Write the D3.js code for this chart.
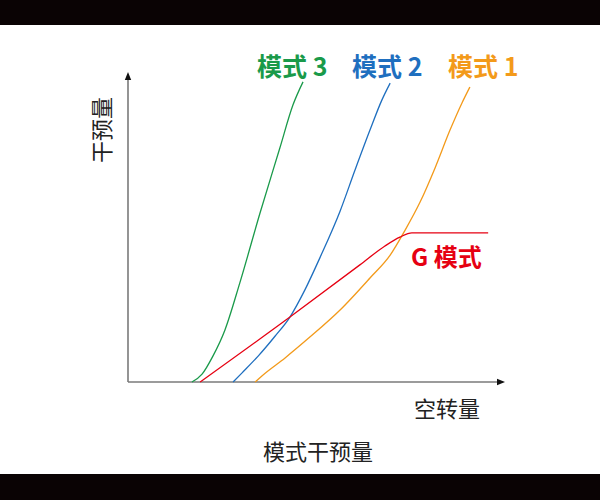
<!DOCTYPE html>
<html><head><meta charset="utf-8">
<script src="https://cdn.jsdelivr.net/npm/d3@7"></script>
<style>html,body{margin:0;padding:0;background:#fff;}svg{display:block;}</style>
</head><body>
<svg id="c" width="600" height="500"></svg>
<script>
// Data (arbitrary units, 0-10 on both axes)
const mode3X = [1.71, 1.98, 2.27, 2.59, 2.99, 3.53, 4.06, 4.41, 4.68];
const mode3Y = [0, 0.26, 0.85, 1.70, 3.25, 5.54, 7.67, 9.08, 9.84];
const mode2X = [2.81, 3.05, 3.48, 3.93, 4.33, 4.73, 5.13, 5.67, 6.07, 6.47, 6.79, 7.01];
const mode2Y = [0, 0.3, 0.85, 1.5, 2.13, 3.02, 4.07, 5.6, 6.95, 8.26, 9.25, 9.8];
const mode1X = [3.40, 3.58, 4.20, 4.87, 5.67, 6.47, 7.01, 7.41, 7.81, 8.21, 8.61, 8.93, 9.14];
const mode1Y = [0, 0.2, 0.79, 1.48, 2.36, 3.41, 4.16, 4.98, 5.9, 7.02, 8.26, 9.15, 9.67];
const gModeX = [1.93, 4.33, 6.20, 6.87, 7.27, 7.59, 9.63];
const gModeY = [0, 2.13, 3.84, 4.46, 4.75, 4.89, 4.89];
const seriesNames = ["模式 3", "模式 2", "模式 1", "G 模式"];
const seriesColors = ["#1a9a4a", "#1f6fbf", "#f39a1a", "#e60012"];
const yAxisTitle = "干预量";
const xAxisTitle = "空转量";
const chartTitle = "模式干预量";

const svg = d3.select("#c");
// black bars
svg.append("rect").attr("x",0).attr("y",0).attr("width",600).attr("height",25).attr("fill","#0a0304");
svg.append("rect").attr("x",0).attr("y",474).attr("width",600).attr("height",26).attr("fill","#0a0304");

const x = d3.scaleLinear().domain([0,10]).range([128,502]);
const y = d3.scaleLinear().domain([0,10]).range([382,77]);

const defs = svg.append("defs");
defs.append("marker").attr("id","arr").attr("viewBox","0 0 10 10").attr("refX",5).attr("refY",5)
  .attr("markerWidth",5).attr("markerHeight",5).attr("orient","auto")
  .append("path").attr("d","M0,1 L10,5 L0,9 Z").attr("fill","#111");

// axes
svg.append("line").attr("x1",x(0)).attr("y1",y(0)).attr("x2",x(0)).attr("y2",y(10)-1)
  .attr("stroke","#7a7a7a").attr("stroke-width",1.6).attr("marker-end","url(#arr)");
svg.append("line").attr("x1",x(0)).attr("y1",y(0)).attr("x2",x(10)-1).attr("y2",y(0))
  .attr("stroke","#7a7a7a").attr("stroke-width",1.6).attr("marker-end","url(#arr)");

const line = d3.line().x(d=>x(d[0])).y(d=>y(d[1])).curve(d3.curveMonotoneX);
const series = [[mode3X,mode3Y],[mode2X,mode2Y],[mode1X,mode1Y],[gModeX,gModeY]];
series.forEach((s,i)=>{
  const pts = s[0].map((v,j)=>[v,s[1][j]]);
  svg.append("path").attr("d",line(pts)).attr("fill","none")
    .attr("stroke",seriesColors[i]).attr("stroke-width",1.3);
});

const font = "'Noto Sans CJK SC', 'Noto Sans', sans-serif";
const labelPos = [[257,76],[352,76],[448,76],[411,266]];
seriesNames.forEach((n,i)=>{
  svg.append("text").attr("x",labelPos[i][0]).attr("y",labelPos[i][1])
    .attr("font-family",font).attr("font-weight","bold").attr("font-size",i===3?24:25)
    .attr("fill",seriesColors[i]).text(n);
});

svg.append("text").attr("transform","translate(110,130) rotate(-90)").attr("text-anchor","middle")
  .attr("font-family",font).attr("font-size",22).attr("fill","#222").text(yAxisTitle);
svg.append("text").attr("x",447).attr("y",417).attr("text-anchor","middle")
  .attr("font-family",font).attr("font-size",22).attr("fill","#222").text(xAxisTitle);
svg.append("text").attr("x",318).attr("y",460).attr("text-anchor","middle")
  .attr("font-family",font).attr("font-size",22).attr("fill","#222").text(chartTitle);
</script>
</body></html>
